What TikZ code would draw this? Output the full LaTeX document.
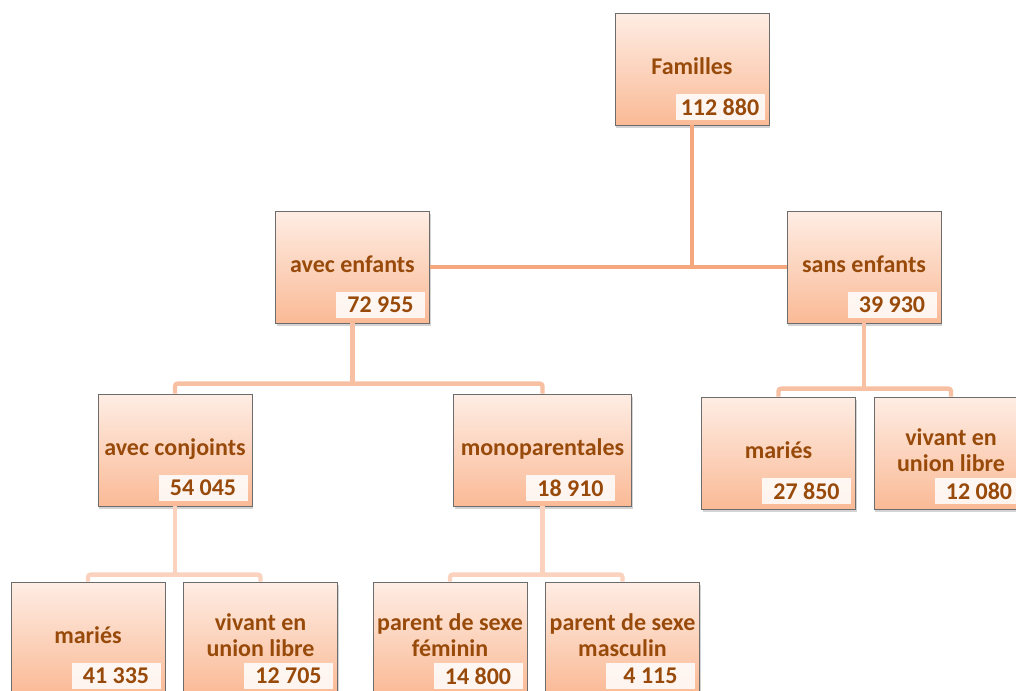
\documentclass[tikz,border=0pt]{standalone}
\usepackage{fontspec}
\setmainfont{Carlito}
\usetikzlibrary{shadows}

\definecolor{brun}{RGB}{152,74,10}
\definecolor{haut}{RGB}{254,237,228}
\definecolor{bas}{RGB}{250,186,150}
\definecolor{trait1}{RGB}{245,168,125}
\definecolor{trait2}{RGB}{248,192,162}
\definecolor{trait3}{RGB}{250,210,190}

\begin{document}
\begin{tikzpicture}[x=0.75pt,y=-0.75pt,
		boite/.style={draw=gray!85!black,line width=0.6pt,top color=haut,bottom color=bas,
			minimum height=84pt,inner sep=0pt,align=center,text=brun,text depth=4.5pt,
			font=\fontsize{18}{20}\selectfont\bfseries,
			drop shadow={shadow xshift=1pt,shadow yshift=-2.5pt,opacity=0.35}},
		nombre/.style={fill=white,fill opacity=0.85,text opacity=1,text=brun,inner sep=0pt,
			minimum width=66.75pt,minimum height=20pt,font=\fontsize{18}{20}\selectfont\bfseries},
		lien/.style={line width=3.3pt,rounded corners=2pt}]
			\useasboundingbox (0,0) rectangle (1016,690);
			\clip (0,0) rectangle (1016,690);
			% boxes: name/x/y/width/label/number
			\foreach \nm/\cx/\cy/\w/\lab/\num in {%
				fam/692/69/115.5/{Familles}/{112 880},
				aenf/352.5/267/115.5/{avec enfants}/{72 955},
				senf/864/267/115.5/{sans enfants}/{39 930},
				acon/175/450/115.5/{avec conjoints}/{54 045},
				mono/542.5/450/134/{monoparentales}/{18 910},
				mar1/778.5/453/115.5/{mariés}/{27 850},
				uni1/951/453/115.5/{vivant en\\union libre}/{12 080},
				mar2/88/638/115.5/{mariés}/{41 335},
				uni2/260.5/638/115.5/{vivant en\\union libre}/{12 705},
				fem/450/638/115.5/{parent de sexe\\féminin}/{14 800},
				mas/622.5/638/115.5/{parent de sexe\\masculin}/{4 115}}{
				\node[boite,minimum width=\w pt] (\nm) at (\cx,\cy) {\lab};
				\node[nombre] (\nm-n) at ([xshift=21pt,yshift=-28.5pt]\nm.center) {\num};
			}
			\draw[lien,trait1] (aenf.east) -- (senf.west);
			\draw[lien,trait1] (fam.south) -- (fam.south |- aenf.east);
			\foreach \p/\a/\b/\c/\h in {aenf/acon/mono/trait2/7.5,senf/mar1/uni1/trait2/6,
				acon/mar2/uni2/trait3/5.25,mono/fem/mas/trait3/5.25}{
				\coordinate (bar-\a) at ([yshift=\h pt]\a.north);
				\draw[lien,\c] (\a.north) -- (bar-\a) -| (\b.north);
				\draw[lien,\c] (\p.south) -- (\p.south |- bar-\a);
			}
		\end{tikzpicture}
\end{document}
